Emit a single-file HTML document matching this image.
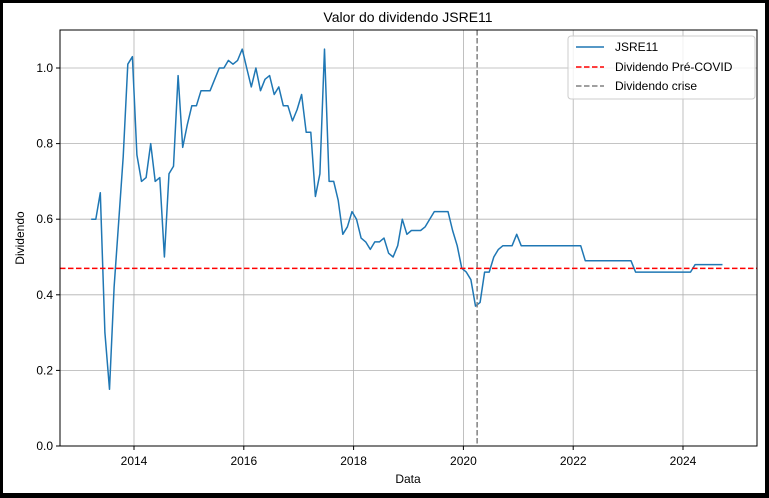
<!DOCTYPE html>
<html><head><meta charset="utf-8"><style>
body{margin:0;background:#000;}
svg{display:block;font-family:"Liberation Sans","DejaVu Sans",sans-serif;}
</style></head><body>
<svg width="769" height="498">
<rect x="3" y="3" width="762" height="490" fill="#fff"/>
<g id="grid"></g>
<g id="series"></g>
<rect x="60" y="30" width="697" height="416" fill="none" stroke="#000" stroke-width="1"/>
<g id="axes" font-size="12" fill="#000"></g>
<text x="408" y="22" font-size="14" text-anchor="middle">Valor do dividendo JSRE11</text>
<text x="408" y="483" font-size="12" text-anchor="middle">Data</text>
<text x="24" y="238" font-size="12" text-anchor="middle" transform="rotate(-90 24 238)">Dividendo</text>
<g>
<rect x="568" y="36" width="187" height="63" rx="3" fill="#fff" fill-opacity="0.8" stroke="#ccc"/>
<line x1="576" y1="47" x2="604" y2="47" stroke="#1f77b4" stroke-width="1.5"/>
<text x="615" y="51" font-size="12">JSRE11</text>
<line x1="576" y1="67" x2="604" y2="67" stroke="#ff0000" stroke-width="1.5" stroke-dasharray="5.5,2.5"/>
<text x="615" y="71" font-size="12">Dividendo Pré-COVID</text>
<line x1="576" y1="86" x2="604" y2="86" stroke="#808080" stroke-width="1.5" stroke-dasharray="5.5,2.5"/>
<text x="615" y="90" font-size="12">Dividendo crise</text>
</g>
</svg>
<script>
const startYear = 2013.22;
const values = [0.60,0.60,0.67,0.30,0.15,0.42,0.59,0.765,1.01,1.03,
0.77,0.70,0.71,0.80,0.70,0.71,0.50,0.72,0.74,0.98,
0.79,0.85,0.90,0.90,0.94,0.94,0.94,0.97,1.00,1.00,
1.02,1.01,1.02,1.05,1.00,0.95,1.00,0.94,0.97,0.98,
0.93,0.95,0.90,0.90,0.86,0.89,0.93,0.83,0.83,0.66,
0.72,1.05,0.70,0.70,0.65,0.56,0.58,0.62,0.60,
0.55,0.54,0.52,0.54,0.54,0.55,0.51,0.50,0.53,0.60,
0.56,0.57,0.57,0.57,0.58,0.60,0.62,0.62,0.62,0.62,
0.57,0.53,0.47,0.46,0.44,0.37,0.38,0.46,0.46,0.50,0.52,0.53,0.53,0.53,0.56,
0.53,0.53,0.53,0.53,0.53,0.53,0.53,0.53,0.53,0.53,0.53,0.53,0.53,0.53,
0.49,0.49,0.49,0.49,0.49,0.49,0.49,0.49,0.49,0.49,0.49,
0.46,0.46,0.46,0.46,0.46,0.46,0.46,0.46,0.46,0.46,0.46,0.46,0.46,
0.48,0.48,0.48,0.48,0.48,0.48,0.48];
const xTicks = [2014,2016,2018,2020,2022,2024];
const yTicks = [0.0,0.2,0.4,0.6,0.8,1.0];
const preCovid = 0.47;
const crisisDate = 2020.25;
const pointsPerYear = 12;

const NS="http://www.w3.org/2000/svg";
const X = y => 134 + (y-2014)*54.9;
const Y = v => 446 - v*378;
function mk(tag, attrs, parent){const e=document.createElementNS(NS,tag);for(const k in attrs)e.setAttribute(k,attrs[k]);parent.appendChild(e);return e;}
const grid=document.getElementById('grid'), axes=document.getElementById('axes'), series=document.getElementById('series');
xTicks.forEach(t=>{
  const g=mk('line',{x1:X(t),x2:X(t),y1:30,y2:446,stroke:'#b0b0b0','stroke-width':0.8},grid);
  
  
  mk('line',{x1:X(t),x2:X(t),y1:446,y2:450,stroke:'#000'},axes);
  const tx=mk('text',{x:X(t),y:465,'text-anchor':'middle'},axes);
  tx.textContent=t;
  
  
});
yTicks.forEach(t=>{
  const g=mk('line',{x1:60,x2:757,y1:Y(t),y2:Y(t),stroke:'#b0b0b0','stroke-width':0.8},grid);
  
  
  mk('line',{x1:56,x2:60,y1:Y(t),y2:Y(t),stroke:'#000'},axes);
  const tx=mk('text',{x:53,y:Y(t)+4,'text-anchor':'end'},axes);
  tx.textContent=t.toFixed(1);
  
  
});
const pts=values.map((v,i)=>X(startYear+i/pointsPerYear).toFixed(1)+','+Y(v).toFixed(1)).join(' ');
const line=mk('polyline',{points:pts,fill:'none',stroke:'#1f77b4','stroke-width':1.5,'stroke-linejoin':'round'},series);


const red=mk('line',{x1:60,x2:757,y1:Y(preCovid),y2:Y(preCovid),stroke:'#ff0000','stroke-width':1.5,'stroke-dasharray':'5.5,2.5'},series);


const gray=mk('line',{x1:X(crisisDate),x2:X(crisisDate),y1:30,y2:446,stroke:'#808080','stroke-width':1.5,'stroke-dasharray':'5.5,2.5'},series);


</script>
</body></html>
